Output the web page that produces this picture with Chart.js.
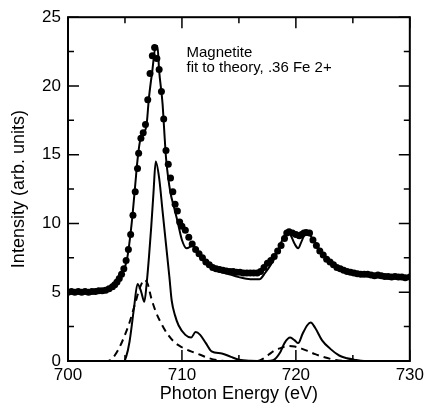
<!DOCTYPE html>
<html>
<head>
<meta charset="utf-8">
<script src="https://cdn.jsdelivr.net/npm/chart.js@4/dist/chart.umd.min.js"></script>
<style>
  html, body { margin: 0; padding: 0; background: #fff; }
</style>
</head>
<body>
<canvas id="chart" width="428" height="407"></canvas>
<script>
// Measured spectrum (dots)
const expEnergy = [
    700.0, 700.3, 700.6, 700.9, 701.2, 701.5, 701.8, 702.1, 702.4, 702.7, 703.0, 703.3, 703.6, 703.9,
    704.1, 704.3, 704.5, 704.7, 704.9, 705.1, 705.3, 705.5, 705.7, 705.9, 706.1, 706.2, 706.4, 706.6,
    706.8, 707.0, 707.2, 707.4, 707.6, 707.8, 708.0, 708.2, 708.4, 708.6, 708.8, 709.0, 709.2, 709.4,
    709.6, 709.8, 710.0, 710.3, 710.6, 710.9, 711.2, 711.5, 711.8, 712.1, 712.4, 712.7, 713.0, 713.3,
    713.6, 713.9, 714.2, 714.5, 714.8, 715.1, 715.4, 715.7, 716.0, 716.3, 716.6, 716.9, 717.2, 717.5,
    717.8, 718.1, 718.4, 718.7, 719.0, 719.2, 719.4, 719.7, 720.0, 720.3, 720.5, 720.7, 720.9, 721.2,
    721.5, 721.8, 722.1, 722.4, 722.7, 723.0, 723.3, 723.6, 723.9, 724.2, 724.5, 724.8, 725.1, 725.4,
    725.7, 726.0, 726.3, 726.6, 726.9, 727.2, 727.5, 727.8, 728.1, 728.4, 728.7, 729.0, 729.3, 729.6, 730.0
];
const expIntensity = [
    5.0, 5.05, 5.0, 5.05, 5.0, 5.05, 5.0, 5.05, 5.05, 5.1, 5.1, 5.15, 5.25, 5.4,
    5.55, 5.75, 6.0, 6.3, 6.7, 7.3, 8.1, 9.2, 10.6, 12.3, 14.0, 15.1, 16.2, 16.6,
    17.2, 19.0, 20.9, 22.2, 22.8, 22.0, 21.2, 19.6, 17.6, 15.3, 14.3, 13.3, 12.3, 11.4,
    10.9, 10.1, 9.8, 9.5, 9.0, 8.5, 8.1, 7.8, 7.5, 7.2, 7.0, 6.8, 6.7, 6.65,
    6.6, 6.55, 6.5, 6.5, 6.45, 6.45, 6.4, 6.4, 6.4, 6.4, 6.4, 6.5, 6.8, 7.1,
    7.3, 7.6, 8.0, 8.4, 8.9, 9.3, 9.4, 9.3, 9.2, 9.1, 9.2, 9.3, 9.35, 9.3,
    8.8, 8.4, 8.0, 7.7, 7.4, 7.2, 7.0, 6.8, 6.7, 6.6, 6.5, 6.45, 6.4, 6.35,
    6.3, 6.3, 6.3, 6.25, 6.2, 6.25, 6.2, 6.15, 6.15, 6.1, 6.15, 6.1, 6.1, 6.05, 6.1
];

// Theory fit (solid line over the dots)
const fitEnergy = [
    700, 701, 702, 703, 703.5, 704, 704.5, 704.8, 705.2, 705.6, 705.9, 706.1, 706.3, 706.6, 706.9,
    707.1, 707.4, 707.7, 707.85, 708.0, 708.3, 708.45, 708.6, 708.75, 709.0, 709.3, 709.6, 710.0,
    710.4, 711.0, 711.3, 711.7, 712.2, 713, 714, 715, 716, 716.8, 717.3, 717.8, 718.3, 718.7, 719.2,
    719.5, 719.9, 720.2, 720.5, 720.9, 721.2, 721.6, 722, 722.5, 723, 724, 725, 726, 728, 730
];
const fitIntensity = [
    5.0, 5.0, 5.0, 5.05, 5.15, 5.45, 5.9, 6.4, 7.5, 10.1, 12.8, 14.6, 15.9, 16.5, 17.2,
    19.1, 21.1, 22.9, 22.9, 21.1, 18.7, 16.7, 14.8, 13.6, 12.2, 11.2, 10.2, 8.8,
    8.2, 8.4, 8.0, 7.5, 7.0, 6.6, 6.35, 6.1, 5.95, 5.95, 6.4, 7.0, 7.8, 8.6, 9.3,
    9.2, 8.5, 8.2, 8.7, 9.35, 9.2, 8.7, 8.2, 7.6, 7.2, 6.6, 6.35, 6.2, 6.05, 6.0
];

// Lower solid component
const compAEnergy = [
    700, 704.9, 705.1, 705.4, 705.8, 706.1, 706.4, 706.7, 706.9, 707.1, 707.3, 707.5, 707.7, 708.0,
    708.3, 708.6, 708.9, 709.1, 709.4, 709.7, 710.3, 710.8, 711.2, 711.6, 712.1, 712.6, 713.5, 714.3,
    715.0, 716.0, 717.5, 718.0, 718.6, 719.0, 719.5, 719.9, 720.2, 720.6, 721.0, 721.3, 721.7, 722.3,
    723.0, 723.8, 724.5, 725.1, 726, 730
];
const compAIntensity = [
    0, 0, 0.3, 1.4, 3.9, 5.6, 5.1, 4.3, 5.6, 7.5, 9.7, 12.2, 14.5, 13.3,
    10.9, 8.5, 6.1, 4.4, 3.3, 2.6, 1.9, 1.7, 2.1, 1.9, 1.3, 0.7, 0.55, 0.3,
    0.1, 0.02, 0, 0.05, 0.6, 1.3, 1.7, 1.5, 1.3, 2.0, 2.6, 2.8, 2.4, 1.5,
    0.9, 0.4, 0.2, 0.1, 0, 0
];

// Lower dashed component
const compBEnergy = [
    700, 703.5, 703.9, 704.4, 704.9, 705.4, 705.9, 706.3, 706.7, 707.0, 707.3, 707.7, 708.2, 708.7,
    709.3, 710.0, 710.8, 711.6, 712.4, 713.2, 714, 716.6, 717.1, 717.6, 718.1, 718.7, 719.3, 719.9,
    720.5, 721.1, 721.7, 722.4, 723.2, 724.0, 730
];
const compBIntensity = [
    0, 0, 0.2, 0.8, 1.7, 2.8, 4.2, 5.3, 5.9, 5.6, 4.6, 3.6, 2.7, 2.0,
    1.4, 1.0, 0.7, 0.45, 0.2, 0.05, 0, 0, 0.15, 0.45, 0.75, 0.95, 1.1, 1.05,
    0.9, 0.7, 0.5, 0.3, 0.12, 0.02, 0
];

const xTicks = [700, 710, 720, 730];
const xMinor = [705, 715, 725];
const yTicks = [0, 5, 10, 15, 20, 25];
const yMinor = [2.5, 7.5, 12.5, 17.5, 22.5];
const noteLines = ['Magnetite', 'fit to theory, .36 Fe 2+'];

const FONT = '"Liberation Sans", Arial, Helvetica, sans-serif';

const toPoints = (xs, ys) => xs.map((x, i) => ({ x: x, y: ys[i] }));

// Frame, inward ticks on all four sides, and the note text
const framePlugin = {
    id: 'frame',
    afterDraw(chart) {
        const { ctx, chartArea: a, scales: { x, y } } = chart;
        ctx.save();
        ctx.strokeStyle = '#000';
        ctx.lineWidth = 1.5;
        ctx.beginPath();
        const tickX = (v, len) => {
            const px = x.getPixelForValue(v);
            ctx.moveTo(px, a.bottom); ctx.lineTo(px, a.bottom - len);
            ctx.moveTo(px, a.top); ctx.lineTo(px, a.top + len);
        };
        const tickY = (v, len) => {
            const py = y.getPixelForValue(v);
            ctx.moveTo(a.left, py); ctx.lineTo(a.left + len, py);
            ctx.moveTo(a.right, py); ctx.lineTo(a.right - len, py);
        };
        xTicks.forEach(v => tickX(v, 11));
        xMinor.forEach(v => tickX(v, 6));
        yTicks.forEach(v => tickY(v, 11));
        yMinor.forEach(v => tickY(v, 6));
        ctx.stroke();

        ctx.lineWidth = 2;
        ctx.strokeRect(a.left, a.top, a.right - a.left, a.bottom - a.top);

        ctx.fillStyle = '#000';
        ctx.font = '15px ' + FONT;
        ctx.textBaseline = 'middle';
        ctx.textAlign = 'left';
        const nx = x.getPixelForValue(710.4);
        ctx.fillText(noteLines[0], nx, y.getPixelForValue(22.4));
        ctx.fillText(noteLines[1], nx, y.getPixelForValue(21.3));
        ctx.restore();
    }
};

new Chart(document.getElementById('chart'), {
    type: 'scatter',
    data: {
        datasets: [
            {
                label: 'Fit',
                type: 'line',
                data: toPoints(fitEnergy, fitIntensity),
                borderColor: '#000',
                borderWidth: 2,
                pointRadius: 0,
                cubicInterpolationMode: 'monotone',
                fill: false
            },
            {
                label: 'Component A',
                type: 'line',
                data: toPoints(compAEnergy, compAIntensity),
                borderColor: '#000',
                borderWidth: 2,
                pointRadius: 0,
                cubicInterpolationMode: 'monotone',
                fill: false
            },
            {
                label: 'Component B',
                type: 'line',
                data: toPoints(compBEnergy, compBIntensity),
                borderColor: '#000',
                borderWidth: 2,
                borderDash: [7, 5],
                pointRadius: 0,
                cubicInterpolationMode: 'monotone',
                fill: false
            },
            {
                label: 'Experiment',
                data: toPoints(expEnergy, expIntensity),
                backgroundColor: '#000',
                borderColor: '#000',
                pointRadius: 3.5,
                pointBorderWidth: 0,
                showLine: false
            }
        ]
    },
    options: {
        responsive: false,
        animation: false,
        layout: { padding: { top: 16, right: 15, left: 0, bottom: 0 } },
        plugins: {
            legend: { display: false },
            tooltip: { enabled: false }
        },
        scales: {
            x: {
                type: 'linear',
                min: 700,
                max: 730,
                afterFit: s => { s.height = 46; },
                afterBuildTicks: s => { s.ticks = xTicks.map(v => ({ value: v })); },
                grid: { display: false, drawTicks: false },
                border: { display: false },
                ticks: { color: '#000', padding: 4, font: { family: FONT, size: 17 } },
                title: {
                    display: true,
                    text: 'Photon Energy (eV)',
                    color: '#000',
                    padding: { top: 0, bottom: 2 },
                    font: { family: FONT, size: 18 }
                }
            },
            y: {
                type: 'linear',
                min: 0,
                max: 25,
                afterFit: s => { s.width = 68; },
                afterBuildTicks: s => { s.ticks = yTicks.map(v => ({ value: v })); },
                grid: { display: false, drawTicks: false },
                border: { display: false },
                ticks: { color: '#000', padding: 7, font: { family: FONT, size: 17 } },
                title: {
                    display: true,
                    text: 'Intensity (arb. units)',
                    color: '#000',
                    padding: { top: 8, bottom: 0 },
                    font: { family: FONT, size: 18 }
                }
            }
        }
    },
    plugins: [framePlugin]
});
</script>
</body>
</html>
